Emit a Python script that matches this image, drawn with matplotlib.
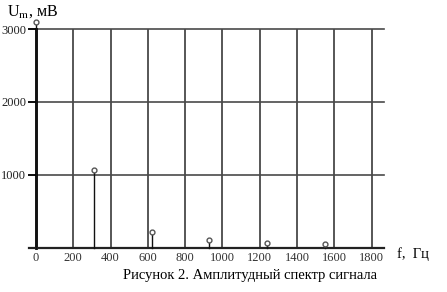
import matplotlib
matplotlib.use("Agg")
import matplotlib.pyplot as plt

# data
freqs = [0, 310, 620, 930, 1240, 1550]
amps = [3100, 1060, 210, 110, 65, 45]
xticks = [0, 200, 400, 600, 800, 1000, 1200, 1400, 1600, 1800]
yticks = [1000, 2000, 3000]

plt.rcParams['font.family'] = ['Liberation Serif', 'DejaVu Serif']
plt.rcParams['mathtext.fontset'] = 'stix'

W, H = 447, 292
fig = plt.figure(figsize=(W/100, H/100), dpi=100)
x0, x1 = 29, 384
y0, y1 = 247.7, 29
ax = fig.add_axes([x0/W, 1-y0/H, (x1-x0)/W, (y0-y1)/H])
ax.set_xlim(-37, 1866)
ax.set_ylim(0, 3000)

for s in ['top', 'right']:
    ax.spines[s].set_visible(False)
ax.spines['left'].set_position(('data', 0))
ax.spines['left'].set_linewidth(2.0)
ax.spines['bottom'].set_linewidth(1.6)
ax.spines['bottom'].set_color('#222222')

for xv in xticks[1:]:
    ax.axvline(xv, color='#3a3a3a', lw=1.2, zorder=1)
for yv in yticks:
    ax.axhline(yv, color='#4a4a4a', lw=1.2, zorder=1, clip_on=False)

ax.set_xticks(xticks)
ax.set_xticklabels([str(v) for v in xticks], fontsize=9, color='#333333')
ax.set_yticks(yticks)
ax.set_yticklabels([str(v) for v in yticks], fontsize=9, color='#222222')
ax.tick_params(axis='x', length=0, pad=3)
ax.tick_params(axis='y', length=6, width=1.2, pad=1)

for f, a in zip(freqs, amps):
    ax.plot([f, f], [0, a], color='#111111', lw=1.0, zorder=3, clip_on=False)
    ax.plot([f], [a], marker='o', ms=3.5, mfc='white', mec='#555555', mew=1.0,
            zorder=4, clip_on=False)

fig.text(7/W, 1-12/H, r'U$_{\mathrm{m}}$, мВ', fontsize=11.5, va='center', ha='left')
fig.text(397/W, 1-254/H, 'f,  Гц', fontsize=10.5, va='center', ha='left')
fig.text(250/W, 1-276/H, 'Рисунок 2. Амплитудный спектр сигнала', fontsize=10.5,
         va='center', ha='center')

fig.savefig('out.png', dpi=100)
